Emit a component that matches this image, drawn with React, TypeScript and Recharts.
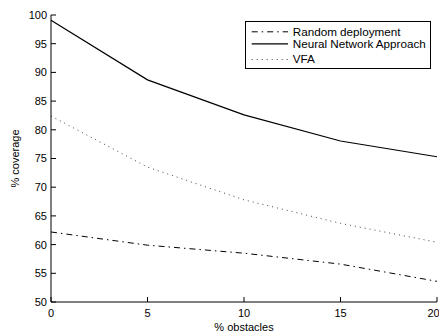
import React from 'react';
import { LineChart, Line, XAxis, YAxis, Legend, Label } from 'recharts';

const obstacles = [0, 5, 10, 15, 20];
const randomDeployment = [62.2, 59.9, 58.5, 56.6, 53.6];
const neuralNetwork = [99.1, 88.7, 82.6, 78.05, 75.3];
const vfa = [82.4, 73.5, 67.8, 63.7, 60.4];
const xTicks = [0, 5, 10, 15, 20];
const yTicks = [50, 55, 60, 65, 70, 75, 80, 85, 90, 95, 100];

const series = [
  { key: 'random', name: 'Random deployment', stroke: '#000', dash: '6 4 1.5 4', width: 1 },
  { key: 'neural', name: 'Neural Network Approach', stroke: '#000', dash: undefined as string | undefined, width: 1.2 },
  { key: 'vfa', name: 'VFA', stroke: '#444', dash: '1 4', width: 1 },
];

// baseline of each legend row, measured from the legend box top
const legendBaselines = [14.3, 26.3, 42];

const data = obstacles.map((x, i) => ({
  x,
  random: randomDeployment[i],
  neural: neuralNetwork[i],
  vfa: vfa[i],
}));

const FONT = '"Liberation Sans", Arial, Helvetica, sans-serif';
const tickStyle = { fontSize: 11, fill: '#000', fontFamily: FONT };

const LegendBox = () => (
  <div
    style={{
      position: 'relative',
      width: 186,
      height: 48,
      boxSizing: 'border-box',
      border: '1px solid #000',
      background: '#fff',
      fontFamily: FONT,
      fontSize: 11.7,
      color: '#000',
    }}
  >
    <svg width={186} height={48} style={{ position: 'absolute', left: -1, top: -1 }}>
      {series.map((s, i) => (
        <line
          key={s.key}
          x1={6.7}
          x2={43}
          y1={legendBaselines[i] - 3.5}
          y2={legendBaselines[i] - 3.5}
          stroke={s.stroke}
          strokeWidth={s.width}
          strokeDasharray={s.dash}
        />
      ))}
    </svg>
    {series.map((s, i) => (
      <span
        key={s.key}
        style={{
          position: 'absolute',
          left: 46.7,
          top: legendBaselines[i] - 10.55 - 1,
          lineHeight: '13px',
          height: 13,
          whiteSpace: 'nowrap',
        }}
      >
        {s.name}
      </span>
    ))}
  </div>
);

export default function App() {
  return (
    <div style={{ position: 'absolute', left: 0, top: 0, width: 439, height: 334, background: '#fff' }}>
      <LineChart width={439} height={334} data={data} margin={{ top: 15, right: 2, bottom: 0, left: 0 }}>
        <XAxis
          dataKey="x"
          type="number"
          domain={[0, 20]}
          ticks={xTicks}
          height={32}
          tickSize={-5}
          tickMargin={12}
          tick={tickStyle}
          axisLine={{ stroke: '#000' }}
          tickLine={{ stroke: '#000' }}
        >
          <Label
            value="% obstacles"
            position="insideBottom"
            offset={3}
            style={{ fontSize: 11, fill: '#000', fontFamily: FONT }}
          />
        </XAxis>
        <XAxis
          xAxisId="top"
          orientation="top"
          dataKey="x"
          type="number"
          domain={[0, 20]}
          ticks={xTicks}
          height={0}
          tickSize={-5}
          tickFormatter={() => ''}
          axisLine={{ stroke: '#000' }}
          tickLine={{ stroke: '#000' }}
        />
        <YAxis
          type="number"
          domain={[50, 100]}
          ticks={yTicks}
          width={51}
          tickSize={-5}
          tickMargin={9}
          tick={tickStyle}
          axisLine={{ stroke: '#000' }}
          tickLine={{ stroke: '#000' }}
        >
          <Label
            content={() => (
              <text
                x={19}
                y={158.5}
                transform="rotate(-90 19 158.5)"
                textAnchor="middle"
                style={{ fontSize: 11, fill: '#000', fontFamily: FONT }}
              >
                % coverage
              </text>
            )}
          />
        </YAxis>
        <YAxis
          yAxisId="right"
          orientation="right"
          type="number"
          domain={[50, 100]}
          ticks={yTicks}
          width={0}
          tickSize={-5}
          tickFormatter={() => ''}
          axisLine={{ stroke: '#000' }}
          tickLine={{ stroke: '#000' }}
        />
        <Legend
          layout="vertical"
          align="center"
          verticalAlign="middle"
          content={() => <LegendBox />}
          wrapperStyle={{ left: 245, top: 21, width: 186, height: 48 }}
        />
        {series.map((s) => (
          <Line
            key={s.key}
            dataKey={s.key}
            name={s.name}
            type="linear"
            stroke={s.stroke}
            strokeWidth={s.width}
            strokeDasharray={s.dash}
            dot={false}
            activeDot={false}
            isAnimationActive={false}
          />
        ))}
      </LineChart>
    </div>
  );
}
